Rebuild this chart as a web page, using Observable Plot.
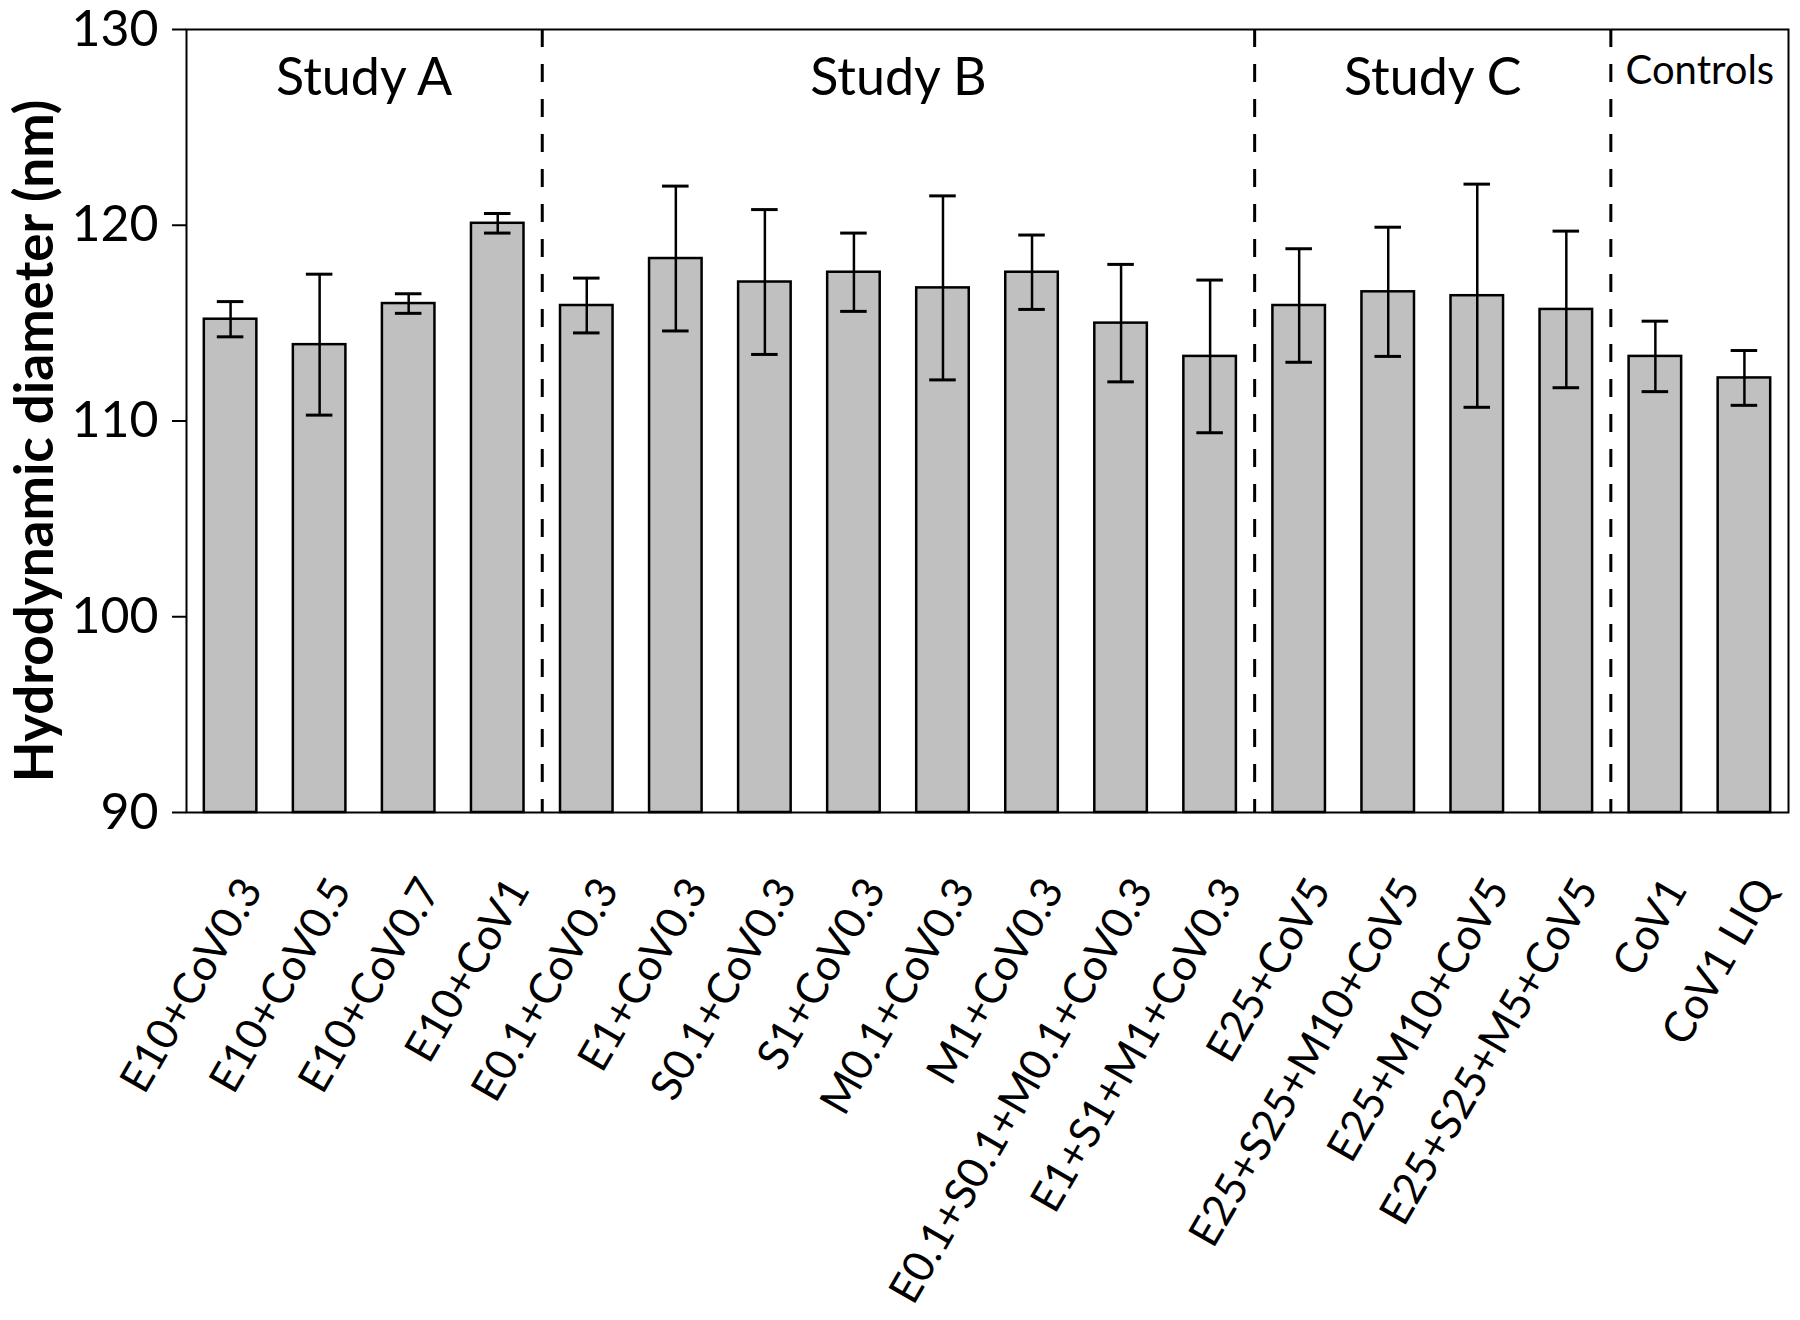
<!DOCTYPE html>
<html>
<head>
<meta charset="utf-8">
<script src="https://cdn.jsdelivr.net/npm/d3@7"></script>
<script src="https://cdn.jsdelivr.net/npm/@observablehq/plot@0.6"></script>
<style>
  html, body { margin: 0; padding: 0; background: #ffffff; }
  #chart { width: 1800px; height: 1320px; }
</style>
</head>
<body>
<div id="chart"></div>
<script>
// ---- data ----
const categories = [
  "E10+CoV0.3", "E10+CoV0.5", "E10+CoV0.7", "E10+CoV1",
  "E0.1+CoV0.3", "E1+CoV0.3", "S0.1+CoV0.3", "S1+CoV0.3",
  "M0.1+CoV0.3", "M1+CoV0.3", "E0.1+S0.1+M0.1+CoV0.3", "E1+S1+M1+CoV0.3",
  "E25+CoV5", "E25+S25+M10+CoV5", "E25+M10+CoV5", "E25+S25+M5+CoV5",
  "CoV1", "CoV1 LIQ"
];
const diameters = [115.2, 113.9, 116.0, 120.1, 115.9, 118.3, 117.1, 117.6, 116.8, 117.6, 115.0, 113.3, 115.9, 116.6, 116.4, 115.7, 113.3, 112.2];
const errors    = [0.9, 3.6, 0.5, 0.5, 1.4, 3.7, 3.7, 2.0, 4.7, 1.9, 3.0, 3.9, 2.9, 3.3, 5.7, 4.0, 1.8, 1.4];
const groupLabels = ["Study A", "Study B", "Study C", "Controls"];
const groupSizes  = [4, 8, 4, 2];
const yTicks = [90, 100, 110, 120, 130];
const yLabel = "Hydrodynamic diameter (nm)";

// ---- build tables ----
const data = categories.map((name, i) => ({name, value: diameters[i], err: errors[i]}));
const yMin = yTicks[0], yMax = yTicks[yTicks.length - 1];

// layout
const W = 1800, H = 1320;
const mL = 186, mR = 12, mT = 29, mB = 508;
const padIn = 0.41, padOut = 0.2;
const step = (W - mL - mR) / (categories.length - padIn + 2 * padOut);

// group helpers (first category of each group; middle category of each group)
const groupStarts = [];
const groups = [];
{
  let k = 0;
  groupSizes.forEach((s, g) => {
    groupStarts.push(categories[k]);
    groups.push({label: groupLabels[g], anchor: categories[k + s / 2 - 1], small: groupLabels[g] === "Controls"});
    k += s;
  });
}
const dividers = groupStarts.slice(1);

const chart = Plot.plot({
  width: W,
  height: H,
  marginTop: mT,
  marginBottom: mB,
  marginLeft: mL,
  marginRight: mR,
  style: {fontFamily: "Lato, 'Open Sans', sans-serif", background: "#ffffff", color: "#000000"},
  x: {type: "band", domain: categories, paddingInner: padIn, paddingOuter: padOut, round: false, axis: null},
  y: {domain: [yMin, yMax], axis: null},
  marks: [
    Plot.barY(data, {x: "name", y1: yMin, y2: "value", fill: "#c0c0c0", stroke: "#000000", strokeWidth: 2.5}),
    Plot.ruleX(dividers, {x: d => d, dx: -step / 2, stroke: "#000000", strokeWidth: 3, strokeDasharray: "18,17"}),
    Plot.ruleX(data, {x: "name", y1: d => d.value - d.err, y2: d => d.value + d.err, stroke: "#000000", strokeWidth: 2.5}),
    Plot.tickY(data, {x: "name", y: d => d.value + d.err, insetLeft: 13, insetRight: 13, stroke: "#000000", strokeWidth: 3}),
    Plot.tickY(data, {x: "name", y: d => d.value - d.err, insetLeft: 13, insetRight: 13, stroke: "#000000", strokeWidth: 3}),
    Plot.frame({stroke: "#000000", strokeWidth: 2}),
    Plot.axisY({ticks: yTicks, tickSize: 14, tickPadding: 14, fontSize: 50, strokeWidth: 2, label: null, tickFormat: d => String(d), fill: "#000000"}),
    Plot.text(categories, {x: d => d, frameAnchor: "bottom", rotate: -60, textAnchor: "end", lineAnchor: "middle", fontSize: 43, dx: 21, dy: 70, fill: "#000000"}),
    Plot.text(groups.filter(g => !g.small), {x: "anchor", text: "label", dx: step / 2, frameAnchor: "top", lineAnchor: "bottom", dy: 65, fontSize: 52, fill: "#000000"}),
    Plot.text(groups.filter(g => g.small), {x: "anchor", text: "label", dx: step / 2, frameAnchor: "top", lineAnchor: "bottom", dy: 54, fontSize: 40, fill: "#000000"}),
    Plot.text([yLabel], {text: d => d, frameAnchor: "left", rotate: -90, textAnchor: "middle", lineAnchor: "middle", dx: -150, dy: 20, fontSize: 53, fontWeight: "bold", fill: "#000000"})
  ]
});
document.getElementById("chart").appendChild(chart);
</script>
</body>
</html>
